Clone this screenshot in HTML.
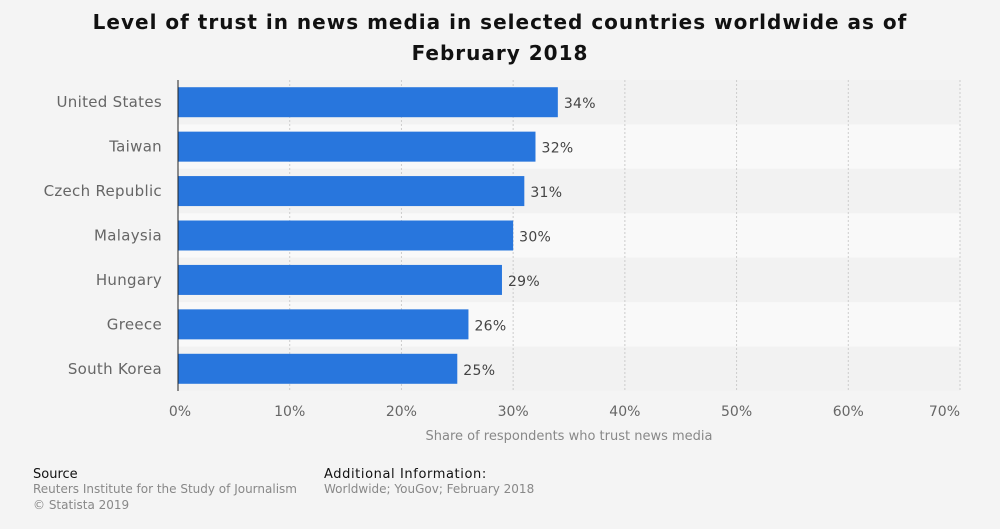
<!DOCTYPE html>
<html><head><meta charset="utf-8"><style>
body{margin:0;background:#f4f4f4;font-family:"DejaVu Sans","Liberation Sans",sans-serif;}
svg{display:block}
</style></head><body>
<svg width="1000" height="529">
<rect width="1000" height="529" fill="#f4f4f4"/>
<text x="500" y="29" text-anchor="middle" font-size="20" font-weight="bold" letter-spacing="1" fill="#111">Level of trust in news media in selected countries worldwide as of</text>
<text x="500" y="60" text-anchor="middle" font-size="20" font-weight="bold" letter-spacing="1" fill="#111">February 2018</text>
<g id="plot"></g>
<text x="569" y="440" text-anchor="middle" font-size="13" fill="#888">Share of respondents who trust news media</text>
<text x="33" y="478" font-size="13" fill="#111">Source</text>
<text x="33" y="493" font-size="12" fill="#888">Reuters Institute for the Study of Journalism</text>
<text x="33" y="509" font-size="12" fill="#888">© Statista 2019</text>
<text x="324" y="478" font-size="13" letter-spacing="0.6" fill="#111">Additional Information:</text>
<text x="324" y="493" font-size="12" fill="#888">Worldwide; YouGov; February 2018</text>
</svg>
<script>
const categories=["United States","Taiwan","Czech Republic","Malaysia","Hungary","Greece","South Korea"];
const values=[34,32,31,30,29,26,25];
const tickValues=[0,10,20,30,40,50,60,70];
const tickLabels=["0%","10%","20%","30%","40%","50%","60%","70%"];
const NS="http://www.w3.org/2000/svg";
const g=document.getElementById("plot");
const x0=178,x1=960,y0=80,y1=391,xMax=70;
const xs=v=>x0+(v/xMax)*(x1-x0);
const band=(y1-y0)/categories.length;
const ys=i=>y0+i*band;
function mk(t,a){const e=document.createElementNS(NS,t);for(const k in a)e.setAttribute(k,a[k]);g.appendChild(e);return e;}
categories.forEach((c,i)=>{
  const r=mk("rect",{x:x0,y:ys(i),width:x1-x0,height:band,fill:i%2?"#f9f9f9":"#f2f2f2"});
  
  
});
tickValues.forEach((v,i)=>{
  if(v>0){const l=mk("line",{x1:xs(v),x2:xs(v),y1:y0,y2:y1,stroke:"#ccc","stroke-dasharray":"2,2"});
  
  }
  const last=i===tickValues.length-1, first=i===0;
  const t=mk("text",{x:last?xs(v):(first?xs(v)+2:xs(v)),y:416,"text-anchor":last?"end":"middle","font-size":"14",fill:"#666"});
  t.textContent=tickLabels[i];
  
  
});
categories.forEach((c,i)=>{
  const cy=ys(i)+band/2;
  const b=mk("rect",{x:x0,y:cy-15,width:xs(values[i])-x0,height:30,fill:"#2876dd"});
  
  
  const l=mk("text",{x:162,y:cy+5,"text-anchor":"end","font-size":"15","letter-spacing":"0.3",fill:"#666"});
  l.textContent=c;
  
  
  const v=mk("text",{x:xs(values[i])+6,y:cy+6,"font-size":"14","letter-spacing":"0.3",fill:"#444"});
  v.textContent=values[i]+"%";
  
  
});
const ax=mk("line",{x1:x0,x2:x0,y1:y0,y2:y1,stroke:"#222","stroke-width":1});


</script>
</body></html>
